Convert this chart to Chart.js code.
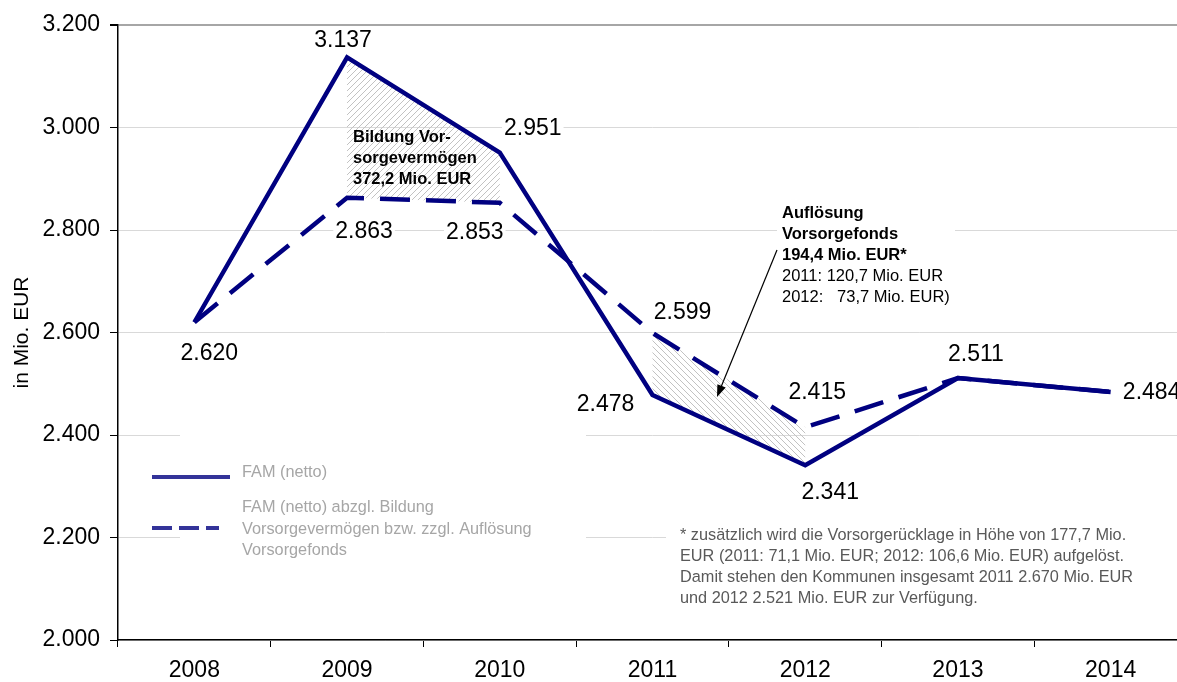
<!DOCTYPE html>
<html>
<head>
<meta charset="utf-8">
<title>FAM (netto) 2008-2014</title>
<script src="https://cdn.jsdelivr.net/npm/chart.js@4"></script>
<style>
  html, body { margin: 0; padding: 0; background: #fff; overflow: hidden; }
</style>
</head>
<body>
<canvas id="fam" width="1200" height="682"></canvas>
<script>
// Finanzausgleichsmasse, Mio. EUR
const years = ['2008', '2009', '2010', '2011', '2012', '2013', '2014'];
const famNetto = [2620, 3137, 2951, 2478, 2341, 2511, 2484];
const famBereinigt = [2620, 2863, 2853, 2599, 2415, 2511, 2484];
const yTicks = [2000, 2200, 2400, 2600, 2800, 3000, 3200];

const FONT = 'Arial, "Liberation Sans", sans-serif';
const NAVY = '#000080';

// value labels: [dataset, index, dx, dy] relative to the point
const valueLabels = [
  [0, 0, 15, 31], [0, 1, -4, -17], [0, 2, 33, -24], [0, 3, -47, 10],
  [0, 4, 25, 27], [0, 5, 18, -23], [0, 6, 41, 1],
  [1, 1, 17, 34], [1, 2, -25, 30], [1, 3, 30, -20], [1, 4, 12, -35]
];

function fmt(v) {
  return String(v).replace(/\B(?=(\d{3})+(?!\d))/g, '.');
}

// diagonal hatch tile, dir > 0 gives "/" and dir < 0 gives "\"
function hatch(dir) {
  const n = 6;
  const c = document.createElement('canvas');
  c.width = n; c.height = n;
  const g = c.getContext('2d');
  g.strokeStyle = '#c2c2c2';
  g.lineWidth = 1;
  g.beginPath();
  if (dir > 0) {
    g.moveTo(-1, n + 1); g.lineTo(n + 1, -1);
    g.moveTo(-1, 1); g.lineTo(1, -1);
    g.moveTo(n - 1, n + 1); g.lineTo(n + 1, n - 1);
  } else {
    g.moveTo(-1, -1); g.lineTo(n + 1, n + 1);
    g.moveTo(n - 1, -1); g.lineTo(n + 1, 1);
    g.moveTo(-1, n - 1); g.lineTo(1, n + 1);
  }
  g.stroke();
  return g.createPattern(c, 'repeat');
}

function band(ctx, x, y, upper, lower, i, pattern) {
  ctx.beginPath();
  ctx.moveTo(x.getPixelForValue(i), y.getPixelForValue(upper[i]));
  ctx.lineTo(x.getPixelForValue(i + 1), y.getPixelForValue(upper[i + 1]));
  ctx.lineTo(x.getPixelForValue(i + 1), y.getPixelForValue(lower[i + 1]));
  ctx.lineTo(x.getPixelForValue(i), y.getPixelForValue(lower[i]));
  ctx.closePath();
  ctx.fillStyle = pattern;
  ctx.fill();
}

function lines(ctx, arr, x, y0, step) {
  arr.forEach((t, k) => ctx.fillText(t, x, y0 + k * step));
}

const decorations = {
  id: 'decorations',
  beforeDatasetsDraw(chart) {
    const ctx = chart.ctx;
    const x = chart.scales.x, y = chart.scales.y;
    ctx.save();

    // white boxes behind legend, notes and footnote
    ctx.fillStyle = '#fff';
    ctx.fillRect(180, 428, 406, 138);
    ctx.fillRect(777, 200, 178, 106);
    ctx.fillRect(666, 522, 540, 90);

    // hatched differences
    band(ctx, x, y, famNetto, famBereinigt, 1, hatch(1));
    band(ctx, x, y, famBereinigt, famNetto, 3, hatch(-1));

    // value labels
    ctx.font = '23px ' + FONT;
    ctx.textAlign = 'center';
    ctx.textBaseline = 'middle';
    valueLabels.forEach(([d, i, dx, dy]) => {
      const v = chart.data.datasets[d].data[i];
      const px = x.getPixelForValue(i) + dx;
      const py = y.getPixelForValue(v) + dy;
      const t = fmt(v);
      const w = ctx.measureText(t).width;
      ctx.fillStyle = '#fff';
      ctx.fillRect(px - w / 2 - 2, py - 12, w + 4, 24);
      ctx.fillStyle = '#000';
      ctx.fillText(t, px, py);
    });

    // notes
    ctx.textAlign = 'left';
    ctx.fillStyle = '#000';
    ctx.font = 'bold 16.5px ' + FONT;
    lines(ctx, ['Bildung Vor-', 'sorgevermögen', '372,2 Mio. EUR'], 353, 137, 21);
    lines(ctx, ['Auflösung', 'Vorsorgefonds', '194,4 Mio. EUR*'], 782, 213, 21);
    ctx.font = '16.5px ' + FONT;
    lines(ctx, ['2011: 120,7 Mio. EUR', '2012:   73,7 Mio. EUR)'], 782, 276, 21);

    // footnote
    ctx.fillStyle = '#595959';
    ctx.font = '16.3px ' + FONT;
    lines(ctx, [
      '* zusätzlich wird die Vorsorgerücklage in Höhe von 177,7 Mio.',
      'EUR (2011: 71,1 Mio. EUR; 2012: 106,6 Mio. EUR) aufgelöst.',
      'Damit stehen den Kommunen insgesamt 2011 2.670 Mio. EUR',
      'und 2012 2.521 Mio. EUR zur Verfügung.'
    ], 680, 536, 21);

    // legend
    const ds = chart.data.datasets;
    ctx.strokeStyle = '#333399';
    ctx.lineWidth = 4;
    ctx.beginPath(); ctx.moveTo(152, 477); ctx.lineTo(230, 477); ctx.stroke();
    ctx.setLineDash([20, 7]);
    ctx.beginPath(); ctx.moveTo(152, 528); ctx.lineTo(219, 528); ctx.stroke();
    ctx.setLineDash([]);
    ctx.fillStyle = '#a6a6a6';
    ctx.font = '16.3px ' + FONT;
    ctx.fillText(ds[0].label, 242, 473);
    lines(ctx, ds[1].label.split('\n'), 242, 508, 21.5);

    ctx.restore();
  },
  afterDatasetsDraw(chart) {
    // arrow pointing into the hatched area 2011/2012
    const ctx = chart.ctx;
    const x0 = 777, y0 = 250, x1 = 717, y1 = 397;
    const a = Math.atan2(y1 - y0, x1 - x0);
    ctx.save();
    ctx.strokeStyle = '#000';
    ctx.fillStyle = '#000';
    ctx.lineWidth = 1.2;
    ctx.beginPath();
    ctx.moveTo(x0, y0);
    ctx.lineTo(x1 - 8 * Math.cos(a), y1 - 8 * Math.sin(a));
    ctx.stroke();
    ctx.beginPath();
    ctx.moveTo(x1, y1);
    ctx.lineTo(x1 - 12 * Math.cos(a) + 4.5 * Math.sin(a), y1 - 12 * Math.sin(a) - 4.5 * Math.cos(a));
    ctx.lineTo(x1 - 12 * Math.cos(a) - 4.5 * Math.sin(a), y1 - 12 * Math.sin(a) + 4.5 * Math.cos(a));
    ctx.closePath();
    ctx.fill();
    ctx.restore();
  }
};

Chart.defaults.font.family = FONT;

new Chart('fam', {
  type: 'line',
  data: {
    labels: years,
    datasets: [
      {
        label: 'FAM (netto)',
        data: famNetto,
        borderColor: NAVY,
        borderWidth: 4.5,
        borderJoinStyle: 'miter',
        pointRadius: 0,
        tension: 0,
        fill: false
      },
      {
        label: 'FAM (netto) abzgl. Bildung\nVorsorgevermögen bzw. zzgl. Auflösung\nVorsorgefonds',
        data: famBereinigt,
        borderColor: NAVY,
        borderWidth: 4.5,
        borderDash: [30, 16],
        borderCapStyle: 'butt',
        pointRadius: 0,
        tension: 0,
        fill: false
      }
    ]
  },
  options: {
    responsive: false,
    animation: false,
    layout: { padding: { left: 0, top: 25, right: 13, bottom: 0 } },
    plugins: {
      legend: { display: false },
      tooltip: { enabled: false }
    },
    scales: {
      x: {
        offset: true,
        grid: {
          offset: true,
          drawOnChartArea: false,
          tickLength: 7,
          tickColor: '#000',
          color: '#000'
        },
        border: { color: '#000', width: 1.5 },
        ticks: { color: '#000', font: { size: 23 }, padding: 10, maxRotation: 0 },
        afterFit(s) { s.height = 42; }
      },
      y: {
        min: 2000,
        max: 3200,
        afterBuildTicks(s) { s.ticks = yTicks.map(v => ({ value: v })); },
        grid: {
          color: c => c.tick && c.tick.value === 3200 ? '#a6a6a6' : '#d9d9d9',
          lineWidth: c => c.tick && c.tick.value === 3200 ? 2 : 1,
          tickLength: 8,
          tickColor: '#000'
        },
        border: { color: '#000', width: 1.5 },
        ticks: {
          color: '#000',
          font: { size: 23 },
          padding: 10,
          callback: v => fmt(v)
        },
        title: {
          display: true,
          text: 'in Mio. EUR',
          color: '#000',
          font: { size: 21 },
          padding: { top: 10, bottom: 0 }
        },
        afterFit(s) { s.width = 118; }
      }
    }
  },
  plugins: [decorations]
});
</script>
</body>
</html>
